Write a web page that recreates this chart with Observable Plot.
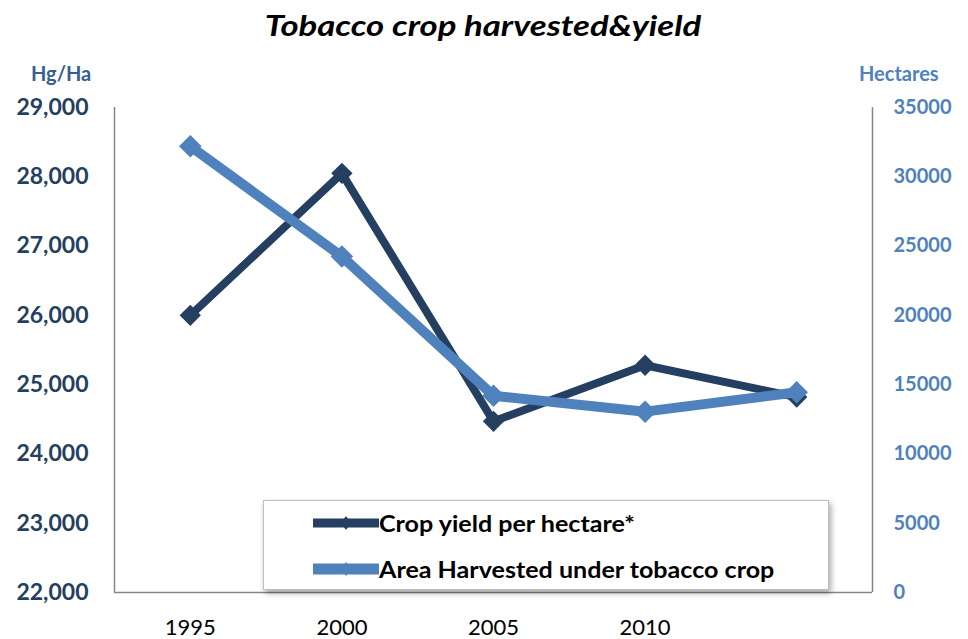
<!DOCTYPE html>
<html>
<head>
<meta charset="utf-8">
<script src="https://cdn.jsdelivr.net/npm/d3@7"></script>
<script src="https://cdn.jsdelivr.net/npm/@observablehq/plot@0.6"></script>
<style>
  html, body { margin: 0; padding: 0; background: #fff; }
  #wrap { position: relative; width: 968px; height: 639px; font-family: Lato, "Open Sans", sans-serif; overflow: hidden; }
  #title { position: absolute; left: 0; top: 8px; width: 966px; text-align: center; font-size: 28px; font-weight: bold; font-style: italic; color: #000; }
  #title span { display: inline-block; transform: scaleX(1.24); transform-origin: center; }
  .unit { position: absolute; top: 61px; font-size: 20px; font-weight: bold; }
  #chart { position: absolute; left: 0; top: 55px; }
  #legend { position: absolute; left: 263px; top: 500px; width: 564px; height: 88px; background: #fff; border: 1px solid #bfbfbf; box-shadow: 2px 3px 6px rgba(0,0,0,0.35); }
  .lg { position: absolute; left: 49px; height: 30px; display: flex; align-items: center; font-size: 22px; font-weight: bold; color: #000; }
  .lg span { display: inline-block; transform: scaleX(1.14); transform-origin: left center; }
</style>
</head>
<body>
<div id="wrap">
  <div id="title"><span>Tobacco crop harvested&amp;yield</span></div>
  <div class="unit" style="left:31px;color:#376092;">Hg/Ha</div>
  <div class="unit" style="left:859px;color:#4F81BD;">Hectares</div>
  <div id="chart"></div>
  <div id="legend"></div>
</div>
<script>
const years = [1995, 2000, 2005, 2010, 2015];
const yearLabels = ["1995", "2000", "2005", "2010", ""];
const yieldHgHa = [26000, 28050, 24470, 25280, 24820];
const areaHa = [32200, 24250, 14200, 13050, 14450];
const leftTicks = [22000, 23000, 24000, 25000, 26000, 27000, 28000, 29000];
const rightTicks = [0, 5000, 10000, 15000, 20000, 25000, 30000, 35000];
const seriesNames = ["Crop yield per hectare*", "Area Harvested under tobacco crop"];
const seriesColors = ["#243F60", "#4F81BD"];

const leftMin = 22000, leftMax = 29000, rightMax = 35000;
const toLeft = v => leftMin + v / rightMax * (leftMax - leftMin);

const yieldRows = years.map((x, i) => ({x, y: yieldHgHa[i]}));
const areaRows = years.map((x, i) => ({x, y: toLeft(areaHa[i])}));

const chart = Plot.plot({
  width: 968,
  height: 584,
  marginTop: 52,
  marginBottom: 47,
  marginLeft: 114,
  marginRight: 96,
  style: {fontFamily: "Lato, 'Open Sans', sans-serif", background: "transparent"},
  x: {domain: [1992.5, 2017.5]},
  y: {domain: [leftMin, leftMax]},
  marks: [
    Plot.ruleX([1992.5, 2017.5], {y1: leftMin, y2: leftMax, stroke: "#868686", strokeWidth: 1.5}),
    Plot.ruleY([leftMin], {stroke: "#868686", strokeWidth: 1.5}),
    Plot.axisY({ticks: leftTicks, tickSize: 0, tickPadding: 26, tickFormat: d3.format(","), fill: "#243F60", fontSize: 23, fontWeight: "bold", label: null}),
    Plot.axisY({anchor: "right", ticks: rightTicks.map(toLeft), tickSize: 0, tickPadding: 21, tickFormat: d => String(Math.round((d - leftMin) / (leftMax - leftMin) * rightMax)), fill: "#4F81BD", fontSize: 20, fontWeight: "bold", label: null}),
    Plot.axisX({ticks: years, tickSize: 0, tickPadding: 27, tickFormat: d => yearLabels[years.indexOf(d)], fill: "#000", fontSize: 22, label: null}),
    Plot.line(yieldRows, {x: "x", y: "y", stroke: seriesColors[0], strokeWidth: 8, strokeLinejoin: "round"}),
    Plot.dot(yieldRows, {x: "x", y: "y", symbol: "square", rotate: 45, r: 8.5, fill: seriesColors[0], stroke: "none"}),
    Plot.line(areaRows, {x: "x", y: "y", stroke: seriesColors[1], strokeWidth: 10, strokeLinejoin: "round"}),
    Plot.dot(areaRows, {x: "x", y: "y", symbol: "square", rotate: 45, r: 9, fill: seriesColors[1], stroke: "none"})
  ]
});
document.getElementById("chart").appendChild(chart);

const legend = document.getElementById("legend");
seriesNames.forEach((name, i) => {
  const row = document.createElement("div");
  row.className = "lg";
  row.style.top = (i === 0 ? 7 : 53) + "px";
  const h = i === 0 ? 9 : 11;
  row.innerHTML = `<svg width="66" height="20"><rect x="0" y="${10 - h / 2}" width="66" height="${h}" fill="${seriesColors[i]}"/><path d="M33 3 L38 10 L33 17 L28 10 Z" fill="${seriesColors[i]}"/></svg><span></span>`;
  row.querySelector("span").textContent = name;
  legend.appendChild(row);
});
</script>
</body>
</html>
